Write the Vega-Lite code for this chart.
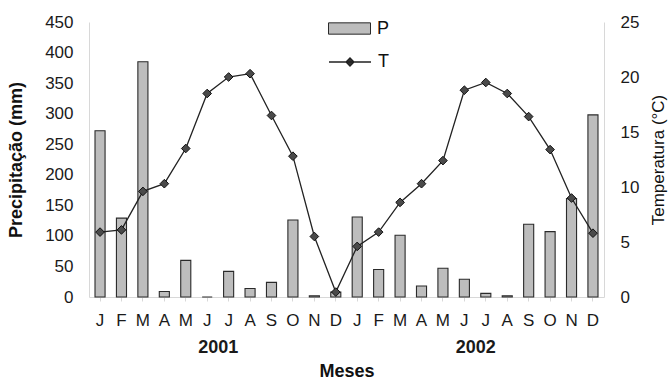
{
  "$schema": "https://vega.github.io/schema/vega-lite/v6.json",
  "width": 515,
  "height": 275,
  "autosize": {"type": "none"},
  "padding": {"left": 89, "top": 22, "right": 66, "bottom": 82},
  "data": {"values": [
    {"key": "J-2001", "ano": "2001", "P": 272, "T": 5.9},
    {"key": "F-2001", "ano": "2001", "P": 129, "T": 6.1},
    {"key": "M-2001", "ano": "2001", "P": 385, "T": 9.6},
    {"key": "A-2001", "ano": "2001", "P": 9, "T": 10.3},
    {"key": "M2-2001", "ano": "2001", "P": 60, "T": 13.5},
    {"key": "J2-2001", "ano": "2001", "P": 0, "T": 18.5},
    {"key": "J3-2001", "ano": "2001", "P": 42, "T": 20.0},
    {"key": "A2-2001", "ano": "2001", "P": 14, "T": 20.3},
    {"key": "S-2001", "ano": "2001", "P": 24, "T": 16.5},
    {"key": "O-2001", "ano": "2001", "P": 126, "T": 12.8},
    {"key": "N-2001", "ano": "2001", "P": 2, "T": 5.5},
    {"key": "D-2001", "ano": "2001", "P": 8, "T": 0.45},
    {"key": "J-2002", "ano": "2002", "P": 131, "T": 4.6},
    {"key": "F-2002", "ano": "2002", "P": 45, "T": 5.9},
    {"key": "M-2002", "ano": "2002", "P": 101, "T": 8.6},
    {"key": "A-2002", "ano": "2002", "P": 18, "T": 10.3},
    {"key": "M2-2002", "ano": "2002", "P": 47, "T": 12.4},
    {"key": "J2-2002", "ano": "2002", "P": 29, "T": 18.8},
    {"key": "J3-2002", "ano": "2002", "P": 6, "T": 19.5},
    {"key": "A2-2002", "ano": "2002", "P": 2, "T": 18.5},
    {"key": "S-2002", "ano": "2002", "P": 119, "T": 16.4},
    {"key": "O-2002", "ano": "2002", "P": 107, "T": 13.4},
    {"key": "N-2002", "ano": "2002", "P": 161, "T": 9.0},
    {"key": "D-2002", "ano": "2002", "P": 298, "T": 5.8}
  ]},
  "config": {
    "font": "Liberation Sans",
    "view": {"stroke": null},
    "axis": {
      "labelFont": "Liberation Sans",
      "labelFontSize": 17,
      "labelColor": "#1a1a1a",
      "titleFont": "Liberation Sans",
      "titleFontSize": 18,
      "titleFontWeight": "bold",
      "titleColor": "#111",
      "grid": false,
      "domainColor": "#d8d8d8",
      "tickColor": "#d8d8d8"
    },
    "legend": {
      "labelFont": "Liberation Sans",
      "labelFontSize": 18,
      "labelColor": "#111",
      "padding": 0
    }
  },
  "layer": [
    {
      "layer": [
        {
          "mark": {"type": "bar", "stroke": "#2a2a2a", "strokeWidth": 1.1},
          "encoding": {
            "x": {"field": "key", "type": "ordinal", "sort": null,
              "scale": {"paddingInner": 0.53, "paddingOuter": 0.28},
              "axis": {"title": null, "orient": "bottom", "labelAngle": 0, "labelExpr": "slice(datum.value, 0, 1)", "ticks": true, "tickSize": 4, "labelPadding": 11, "domain": true}},
            "y": {"field": "P", "type": "quantitative",
              "scale": {"domain": [0, 450], "nice": false},
              "axis": {"title": "Precipitação (mm)", "orient": "left", "values": [0, 50, 100, 150, 200, 250, 300, 350, 400, 450], "ticks": false, "labelPadding": 16, "titlePadding": 19}},
            "fill": {"datum": "P", "type": "nominal",
              "scale": {"domain": ["P"], "range": ["#bdbdbd"]},
              "legend": {"title": null, "orient": "none", "legendX": 239, "legendY": -15, "symbolType": "M-1,-0.27H1V0.27H-1Z", "symbolSize": 1764, "symbolStrokeColor": "#2a2a2a", "symbolStrokeWidth": 1, "labelOffset": 6}}
          }
        },
        {
          "mark": {"type": "line", "color": "#222", "strokeWidth": 1.3},
          "encoding": {
            "x": {"field": "key", "type": "ordinal", "sort": null},
            "y": {"field": "T", "type": "quantitative",
              "scale": {"domain": [0, 25], "nice": false},
              "axis": {"title": "Temperatura (°C)", "orient": "right", "values": [0, 5, 10, 15, 20, 25], "ticks": false, "labelPadding": 16, "titlePadding": 29, "titleAngle": 270, "titleFontWeight": "normal", "titleFontSize": 17}},
            "stroke": {"datum": "T", "type": "nominal",
              "scale": {"domain": ["T"], "range": ["#222"]},
              "legend": {"title": null, "orient": "none", "legendX": 239, "legendY": 18, "symbolType": "M-1,0H1M-0.19,0L0,-0.19L0.19,0L0,0.19Z", "symbolSize": 1764, "symbolFillColor": "#333", "symbolStrokeWidth": 1.3, "labelOffset": 6}}
          }
        },
        {
          "mark": {"type": "point", "shape": "diamond", "filled": true, "fill": "#4a4a4a", "stroke": "#111", "strokeWidth": 1, "size": 75, "opacity": 1},
          "encoding": {
            "x": {"field": "key", "type": "ordinal", "sort": null},
            "y": {"field": "T", "type": "quantitative", "scale": {"domain": [0, 25], "nice": false}, "axis": null}
          }
        }
      ],
      "resolve": {"scale": {"y": "independent", "fill": "independent", "stroke": "independent"}}
    },
    {
      "mark": {"type": "point", "opacity": 0},
      "encoding": {
        "x": {"field": "ano", "type": "ordinal",
          "scale": {"paddingInner": 0, "paddingOuter": 0},
          "axis": {"title": "Meses", "orient": "bottom", "labelAngle": 0, "domain": false, "ticks": false, "labelFontWeight": "bold", "labelFontSize": 18, "labelPadding": 41, "titlePadding": 6}}
      }
    }
  ],
  "resolve": {"scale": {"x": "independent"}}
}
